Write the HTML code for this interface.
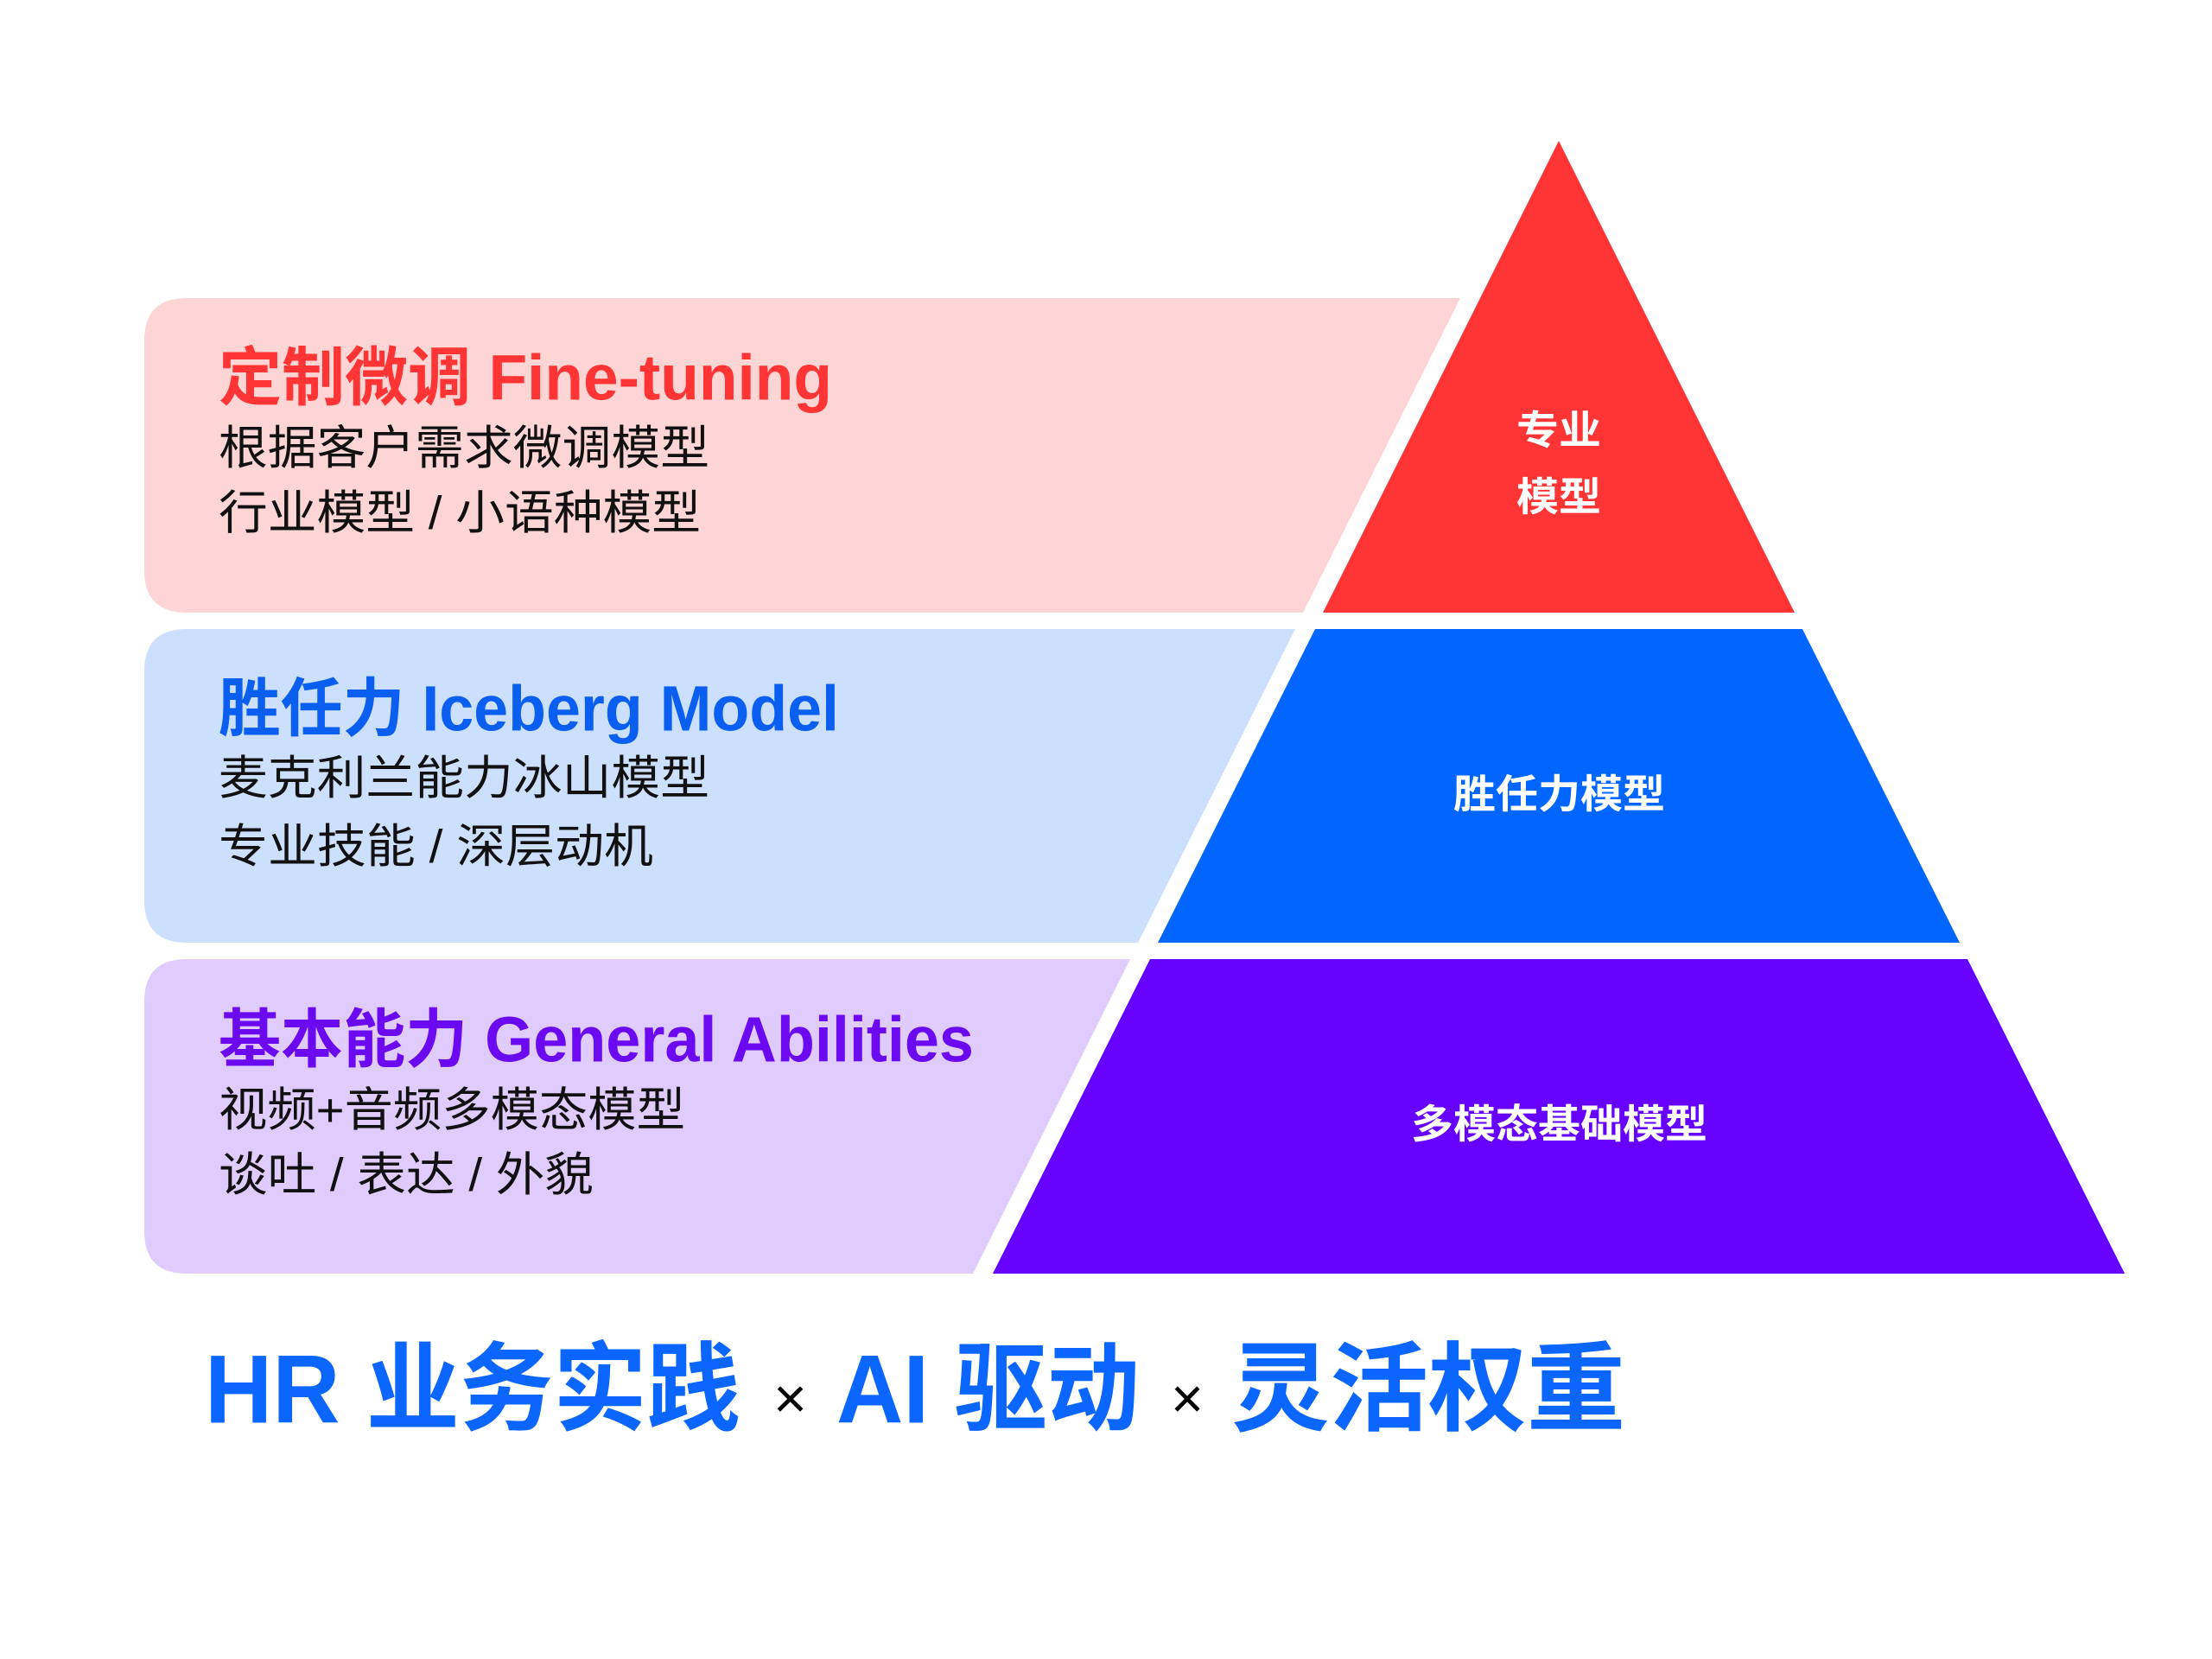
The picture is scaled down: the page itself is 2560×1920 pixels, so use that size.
<!DOCTYPE html>
<html><head><meta charset="utf-8"><style>
html,body{margin:0;padding:0;background:#fff;width:2560px;height:1920px;overflow:hidden}
svg{display:block}
text{font-family:"Liberation Sans","Noto Sans CJK SC",sans-serif;dominant-baseline:central}
.t{font-weight:bold;font-size:74px}
.b{font-size:54px;fill:#111}
.w{fill:#fff;font-weight:bold;font-size:46px}
.h{font-weight:bold;font-size:112px;fill:#0A66FF}
</style></head><body>
<svg width="2560" height="1920" viewBox="0 0 2560 1920" xmlns="http://www.w3.org/2000/svg">
<!-- boxes -->
<path d="M216,345 L1690,345 L1508,709 L216,709 Q167,709 167,660 L167,394 Q167,345 216,345 Z" fill="#FDD5D5"/>
<path d="M216,728 L1499,728 L1317,1091 L216,1091 Q167,1091 167,1042 L167,777 Q167,728 216,728 Z" fill="#CCE0FD"/>
<path d="M216,1110 L1308,1110 L1126,1474 L216,1474 Q167,1474 167,1425 L167,1159 Q167,1110 216,1110 Z" fill="#E0CCFC"/>
<!-- pyramid -->
<polygon points="1804,163 2077,709 1531,709" fill="#FF3434"/>
<polygon points="1522,728 2086,728 2268,1091 1340,1091" fill="#0066FF"/>
<polygon points="1331,1110 2277,1110 2459,1474 1149,1474" fill="#6600FF"/>
<!-- box texts -->
<text class="t" x="253" y="437" fill="#FF3434" textLength="710" lengthAdjust="spacingAndGlyphs">定制微调 Fine-tuning</text>
<text class="b" x="253" y="519" textLength="568" lengthAdjust="spacingAndGlyphs">根据客户需求微调模型</text>
<text class="b" x="253" y="594" textLength="558" lengthAdjust="spacingAndGlyphs">行业模型 / 小语种模型</text>
<text class="t" x="253" y="820" fill="#0A5FF0" textLength="718" lengthAdjust="spacingAndGlyphs">胜任力 Iceberg Model</text>
<text class="b" x="253" y="901" textLength="568" lengthAdjust="spacingAndGlyphs">麦克利兰能力冰山模型</text>
<text class="b" x="253" y="980" textLength="503" lengthAdjust="spacingAndGlyphs">专业技能 / 深层动机</text>
<text class="t" x="253" y="1203" fill="#6B0AF0" textLength="874" lengthAdjust="spacingAndGlyphs">基本能力 General Abilities</text>
<text class="b" x="253" y="1285" textLength="540" lengthAdjust="spacingAndGlyphs">视频+音频多模态模型</text>
<text class="b" x="253" y="1360" textLength="434" lengthAdjust="spacingAndGlyphs">谈吐 / 表达 / 外貌</text>
<!-- pyramid labels -->
<text class="w" x="1755" y="498" textLength="98" lengthAdjust="spacingAndGlyphs">专业</text>
<text class="w" x="1755" y="575" textLength="98" lengthAdjust="spacingAndGlyphs">模型</text>
<text class="w" x="1682" y="919" textLength="245" lengthAdjust="spacingAndGlyphs">胜任力模型</text>
<text class="w" x="1633" y="1301" textLength="343" lengthAdjust="spacingAndGlyphs">多模态基础模型</text>
<!-- bottom heading -->
<text class="h" x="237" y="1608" textLength="620" lengthAdjust="spacingAndGlyphs">HR 业务实践</text>
<text x="895" y="1618" font-size="66" fill="#000" textLength="39" lengthAdjust="spacingAndGlyphs">×</text>
<text class="h" x="968" y="1608" textLength="351" lengthAdjust="spacingAndGlyphs">AI 驱动</text>
<text x="1355" y="1618" font-size="66" fill="#000" textLength="38" lengthAdjust="spacingAndGlyphs">×</text>
<text class="h" x="1425" y="1608" textLength="456" lengthAdjust="spacingAndGlyphs">灵活权重</text>
</svg>
</body></html>
